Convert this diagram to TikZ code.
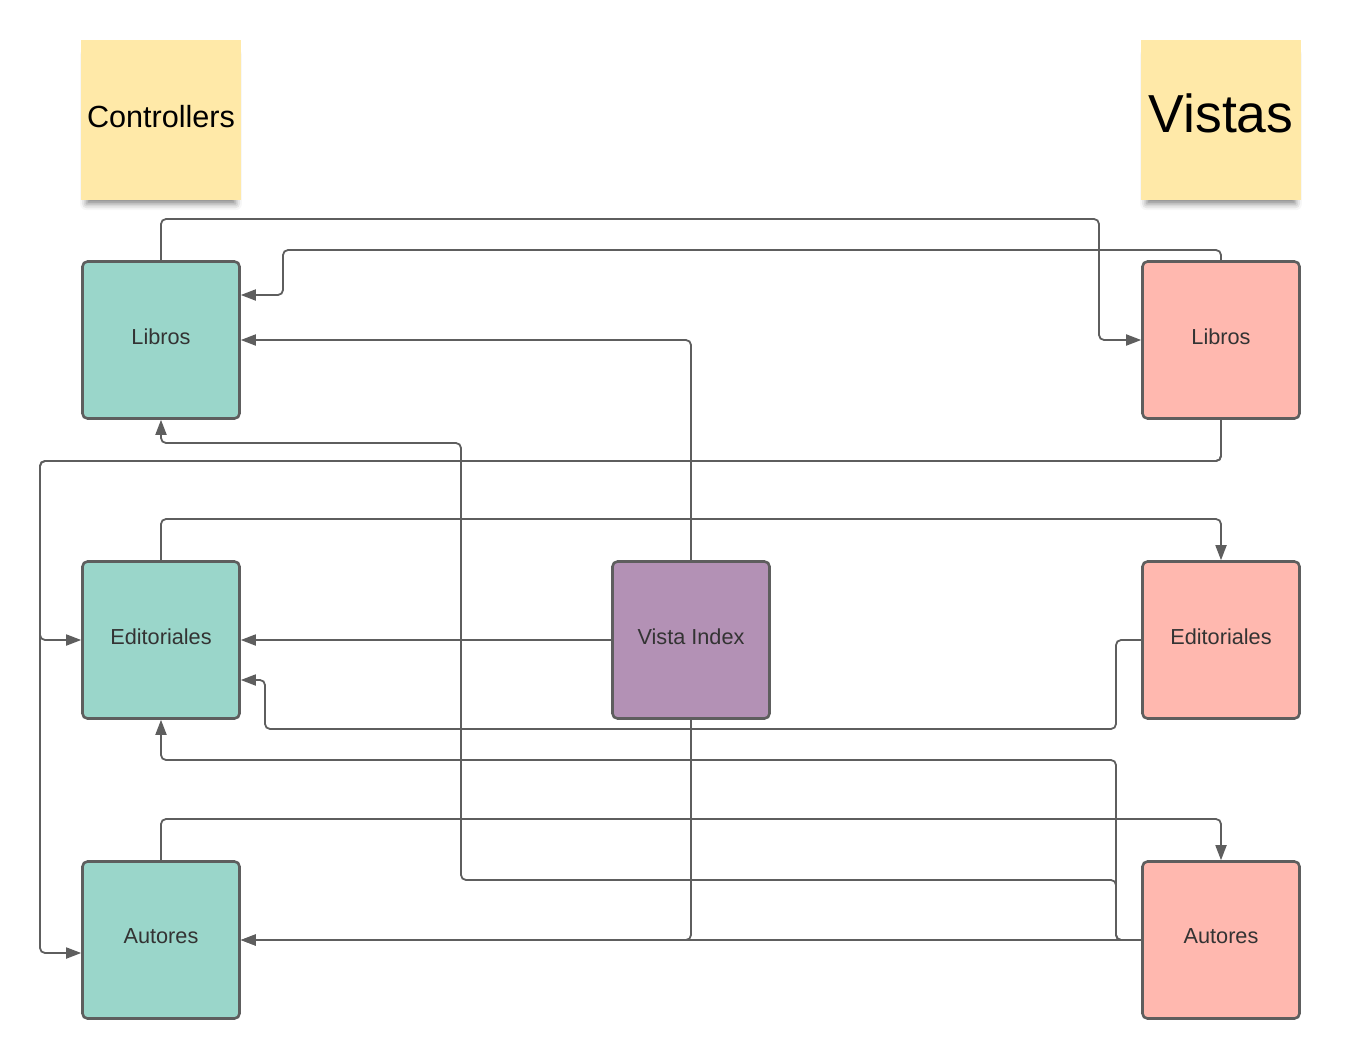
\documentclass[tikz,border=0pt]{standalone}
\usepackage{fontspec}
\setmainfont{Liberation Sans}
\usetikzlibrary{arrows.meta,shadows.blur}
\definecolor{teal}{HTML}{9AD6CA}
\definecolor{salmon}{HTML}{FFB8AF}
\definecolor{purp}{HTML}{B391B5}
\definecolor{sticky}{HTML}{FFE9A8}
\definecolor{edge}{HTML}{5E5E5E}
\definecolor{txt}{HTML}{333333}
\newcommand{\up}[2]{\raisebox{#1}{#2}}
\tikzset{
  box/.style={draw=edge, line width=2.6pt, rounded corners=5pt, minimum width=157pt, minimum height=157pt, inner sep=0pt, text=txt, font=\fontsize{21.7}{26}\selectfont},
  ctrl/.style={box, fill=teal},
  vist/.style={box, fill=salmon},
  idx/.style={box, fill=purp},
  note/.style={fill=sticky, minimum width=160pt, minimum height=160pt, inner sep=0pt, text=black,
    blur shadow={shadow xshift=0pt, shadow yshift=-10pt, shadow scale=0.93, shadow blur radius=7pt, shadow opacity=50}},
  conn/.style={draw=edge, line width=1.8pt, rounded corners=5pt, -{Triangle[length=15pt,width=11pt]}}
}
\begin{document}
\begin{tikzpicture}[x=1pt,y=-1pt]
\useasboundingbox (0,0) rectangle (1362,1060);
% sticky notes
\node[note, font=\fontsize{30.6}{36}\selectfont] (nc) at (161,120) {\up{8pt}{Controllers}};
\node[note, font=\fontsize{53.5}{60}\selectfont] (nv) at (1221,120) {\up{13pt}{Vistas}};
% bend points
\coordinate (c1) at (1099,219);
\coordinate (c2) at (283,250);
\coordinate (c3a) at (1116,880);
\coordinate (c3b) at (461,443);
\coordinate (c4) at (40,461);
\coordinate (c5) at (1221,519);
\coordinate (c6a) at (1116,729);
\coordinate (c6b) at (265,680);
\coordinate (c7) at (1116,760);
\coordinate (c8) at (1221,819);
% boxes
\node[ctrl] (cl) at (161,340) {\up{7pt}{Libros}};
\node[vist] (vl) at (1221,340) {\up{7pt}{Libros}};
\node[ctrl] (ce) at (161,640) {\up{7pt}{Editoriales}};
\node[idx]  (vi) at (691,640) {\up{7pt}{Vista Index}};
\node[vist] (ve) at (1221,640) {\up{7pt}{Editoriales}};
\node[ctrl] (ca) at (161,940) {\up{7pt}{Autores}};
\node[vist] (va) at (1221,940) {\up{7pt}{Autores}};
% connectors
\draw[conn] (cl.north) |- (c1) |- (vl.west);
\draw[conn] (vl.north) |- (c2) |- ([yshift=45pt]cl.east);
\draw[conn] (vi.north) |- (cl.east);
\draw[conn] (va.west) -| (c3a) -| (c3b) -| (cl.south);
\draw[conn] (vl.south) |- (c4) |- (ce.west);
\draw[conn] (vl.south) |- (c4) |- ([yshift=-13pt]ca.west);
\draw[conn] (ce.north) |- (c5) -- (ve.north);
\draw[conn] (vi.west) -- (ce.east);
\draw[conn] (ve.west) -| (c6a) -| (c6b) -- ([yshift=-40pt]ce.east);
\draw[conn] (va.west) -| (c7) -| (ce.south);
\draw[conn] (ca.north) |- (c8) -- (va.north);
\draw[conn] (vi.south) |- (ca.east);
\draw[conn] (va.west) -- (ca.east);
\end{tikzpicture}
\end{document}
